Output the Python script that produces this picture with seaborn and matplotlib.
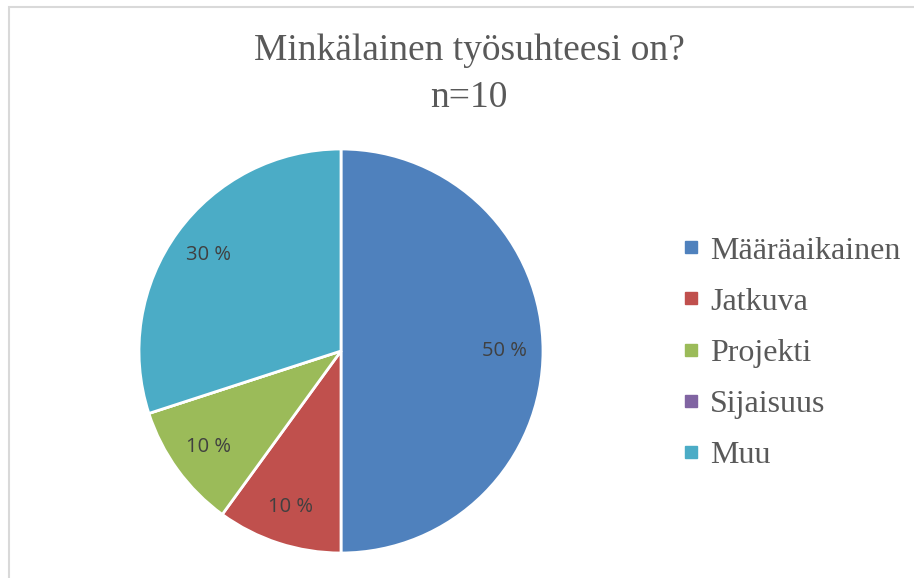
import matplotlib
matplotlib.use("Agg")
import matplotlib.pyplot as plt
import seaborn as sns
from matplotlib.lines import Line2D
from matplotlib.patches import Rectangle

sns.set_theme(style="white")

categories = ["Määräaikainen", "Jatkuva", "Projekti", "Sijaisuus", "Muu"]
values = [50, 10, 10, 0, 30]
colors = ["#4F81BD", "#C0504D", "#9BBB59", "#8064A2", "#4BACC6"]
title_lines = ["Minkälainen työsuhteesi on?", "n=10"]

W, H = 914, 578
fig = plt.figure(figsize=(W / 100, H / 100), dpi=100)
fig.patch.set_facecolor("white")

# outer chart border
fig.patches.append(Rectangle((8.5 / W, -0.1), 1.2, 1 - 7.5 / H + 0.1,
                             transform=fig.transFigure, fill=False,
                             edgecolor="#D9D9D9", linewidth=1.5))

cx, cy, r = 341, 351, 202
ax = fig.add_axes([(cx - r) / W, (H - cy - r) / H, 2 * r / W, 2 * r / H])

def fmt(p):
    return "" if p < 0.5 else f"{p:.0f} %"

wedges, texts, autotexts = ax.pie(
    values, colors=colors, startangle=90, counterclock=False, radius=1,
    autopct=fmt, pctdistance=0.81,
    wedgeprops=dict(edgecolor="white", linewidth=2),
    textprops=dict(family="Open Sans", fontsize=14.5, color="#404040"))
ax.set_xlim(-1, 1)
ax.set_ylim(-1, 1)
ax.set_aspect("auto")
ax.axis("off")

fig.text(469 / W, 1 - 51 / H, title_lines[0], ha="center", va="center",
         family="Liberation Serif", fontsize=27, color="#595959")
fig.text(469 / W, 1 - 98 / H, title_lines[1], ha="center", va="center",
         family="Liberation Serif", fontsize=27, color="#595959")

handles = [Line2D([0], [0], marker="s", linestyle="none", markersize=8,
                  markerfacecolor=c, markeredgecolor=c) for c in colors]
leg = fig.legend(handles, categories, loc="center left",
                 bbox_to_anchor=(667 / W, 1 - 353 / H), frameon=False,
                 prop=dict(family="Liberation Serif", size=23),
                 labelspacing=0.68, handlelength=0.5, handletextpad=0.35,
                 borderpad=0)
for t in leg.get_texts():
    t.set_color("#595959")

fig.savefig("out.png", dpi=100, facecolor="white")
